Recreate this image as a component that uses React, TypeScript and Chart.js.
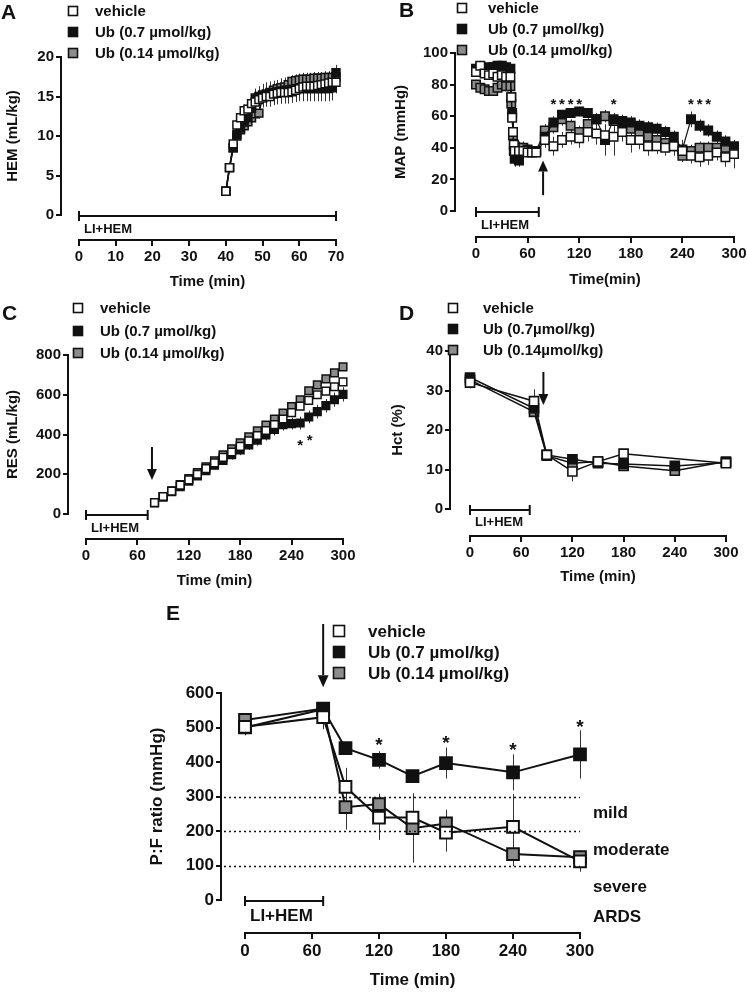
import { useEffect, useRef } from "react";
import { Chart, registerables } from "chart.js";
Chart.register(...registerables);

const FONT = "'Liberation Sans', Arial, Helvetica, sans-serif";
const INK = "#111111";
const WHITE = "#ffffff";
const BLACK = "#111111";
const GRAY = "#8c8c8c";
const FILLS = [WHITE, BLACK, GRAY];

const legendLabels = ["vehicle", "Ub (0.7 µmol/kg)", "Ub (0.14 µmol/kg)"];
const legendLabelsD = ["vehicle", "Ub (0.7µmol/kg)", "Ub (0.14µmol/kg)"];

// ---------- Panel A: HEM ----------
const aTime = [40, 41, 42, 43, 44, 45, 46, 47, 48, 49, 50, 51, 52, 53, 54, 55, 56, 57, 58, 59, 60, 61, 62, 63, 64, 65, 66, 67, 68, 69, 70];
const aVehicle = [3, 6, 9, 11.4, 12.3, 13.2, 13.4, 14.1, 14.3, 14.6, 14.8, 15, 15, 15.3, 15.4, 15.5, 15.5, 15.5, 15.6, 15.8, 16, 16.2, 16.3, 16.3, 16.3, 16.4, 16.5, 16.6, 16.7, 16.8, 16.8];
const aVehicleErr = [0.3, 0.4, 0.5, 0.6, 0.7, 0.8, 0.9, 1, 1.1, 1.2, 1.2, 1.3, 1.3, 1.4, 1.4, 1.4, 1.4, 1.4, 1.4, 1.4, 1.4, 1.4, 1.4, 1.4, 1.4, 1.4, 1.4, 1.4, 1.4, 1.4, 1.4];
const aUb07 = [3, 6, 8.5, 10.2, 11, 11.8, 12.5, 13.5, 14.8, 15, 15.2, 15.3, 15.4, 15.5, 15.6, 15.7, 15.8, 15.8, 15.9, 15.9, 16, 16, 16, 16, 16, 16, 16, 16, 16, 16.1, 18];
const aUb07Err = [0.3, 0.4, 0.5, 0.6, 0.7, 0.8, 0.9, 1, 1.2, 1.3, 1.4, 1.5, 1.5, 1.5, 1.5, 1.6, 1.6, 1.6, 1.6, 1.6, 1.6, 1.6, 1.6, 1.6, 1.6, 1.6, 1.6, 1.6, 1.6, 1.6, 1];
const aUb014 = [3, 6, 8.5, 10, 10.8, 11.3, 11.8, 12.3, 12.8, 12.9, 14.9, 15.3, 15.5, 15.8, 16, 16.1, 16.2, 16.5, 16.9, 17, 17.1, 17.2, 17.2, 17.2, 17.3, 17.3, 17.3, 17.4, 17.4, 17.4, 17.5];
const aUb014Err = [0.3, 0.3, 0.4, 0.4, 0.5, 0.5, 0.6, 0.6, 0.6, 0.7, 0.7, 0.7, 0.7, 0.7, 0.8, 0.8, 0.8, 0.8, 0.8, 0.8, 0.8, 0.8, 0.8, 0.8, 0.8, 0.8, 0.8, 0.8, 0.8, 0.8, 0.8];
const aXTicks = [0, 10, 20, 30, 40, 50, 60, 70];
const aYTicks = [0, 5, 10, 15, 20];

// ---------- Panel B: MAP ----------
const bTime = [0, 5, 10, 15, 20, 25, 30, 35, 40, 41, 42, 43, 44, 45, 50, 55, 60, 65, 70, 80, 90, 100, 110, 120, 130, 140, 150, 160, 170, 180, 190, 200, 210, 220, 230, 240, 250, 260, 270, 280, 290, 300];
const bVehicle = [88, 92, 87, 86, 87, 85, 86, 85, 85, 72, 59, 50, 42, 38, 38, 38, 37, 37, 37, 45, 41, 45, 47, 46, 50, 49, 48, 47, 50, 45, 45, 41, 41, 40, 41, 38, 35, 34, 35, 37, 34, 36];
const bVehicleErr = [3, 3, 3, 3, 3, 3, 3, 3, 4, 5, 6, 6, 5, 5, 4, 4, 3, 3, 3, 5, 6, 5, 5, 6, 6, 7, 6, 12, 6, 8, 6, 6, 5, 5, 6, 7, 5, 6, 6, 5, 6, 9];
const bUb07 = [90, 91, 90, 91, 91, 92, 92, 91, 90, 72, 62, 50, 38, 33, 32, 38, 38, 38, 38, 47, 56, 61, 62, 63, 62, 58, 45, 58, 57, 56, 54, 53, 52, 50, 47, 39, 58, 54, 51, 47, 44, 41];
const bUb07Err = [3, 3, 3, 3, 3, 3, 3, 3, 4, 5, 6, 6, 7, 5, 4, 3, 3, 3, 3, 5, 4, 3, 3, 3, 3, 4, 10, 4, 4, 4, 4, 4, 4, 4, 4, 6, 5, 4, 4, 4, 4, 4];
const bUb014 = [80, 78, 77, 76, 76, 78, 80, 79, 79, 68, 60, 48, 42, 38, 40, 40, 39, 38, 38, 51, 53, 58, 54, 50, 55, 58, 60, 57, 56, 52, 50, 47, 45, 43, 41, 35, 38, 40, 40, 40, 40, 40];
const bUb014Err = [3, 3, 3, 3, 3, 3, 3, 3, 4, 5, 5, 5, 5, 4, 4, 4, 3, 3, 3, 4, 4, 4, 4, 4, 4, 4, 4, 4, 4, 4, 4, 4, 4, 4, 4, 4, 4, 4, 4, 4, 4, 4];
const bXTicks = [0, 60, 120, 180, 240, 300];
const bYTicks = [0, 20, 40, 60, 80, 100];
const bStarTimes = [90, 100, 110, 120, 160, 250, 260, 270];
const bStarLevel = 70;

// ---------- Panel C: RES ----------
const cTime = [80, 90, 100, 110, 120, 130, 140, 150, 160, 170, 180, 190, 200, 210, 220, 230, 240, 250, 260, 270, 280, 290, 300];
const cVehicle = [57, 88, 115, 145, 172, 200, 228, 257, 285, 312, 340, 368, 395, 420, 450, 478, 510, 543, 572, 600, 618, 640, 665];
const cVehicleErr = [6, 8, 8, 10, 10, 10, 10, 12, 12, 12, 12, 14, 14, 14, 15, 15, 15, 16, 16, 18, 18, 20, 20];
const cUb07 = [57, 85, 112, 138, 165, 192, 218, 245, 270, 298, 322, 348, 372, 398, 425, 450, 455, 458, 488, 515, 545, 575, 602];
const cUb07Err = [6, 10, 12, 14, 16, 18, 20, 22, 24, 24, 26, 26, 28, 28, 30, 30, 30, 32, 32, 34, 34, 36, 36];
const cUb014 = [57, 88, 117, 148, 178, 208, 238, 268, 298, 328, 358, 388, 418, 448, 478, 508, 540, 575, 620, 650, 680, 710, 740];
const cUb014Err = [5, 6, 6, 7, 7, 8, 8, 8, 9, 9, 10, 10, 10, 11, 11, 12, 12, 12, 13, 13, 14, 14, 15];
const cXTicks = [0, 60, 120, 180, 240, 300];
const cYTicks = [0, 200, 400, 600, 800];
const cStarTimes = [250, 261];
const cStarValues = [363, 388];

// ---------- Panel D: Hct ----------
const dTime = [0, 75, 90, 120, 150, 180, 240, 300];
const dVehicle = [32, 27.3, 13.7, 9.5, 12, 14, null, 11.6];
const dVehicleErr = [1.5, 3, 1, 2.5, 1, 1, 0, 1];
const dUb07 = [33.3, 25.5, 13.7, 12.6, 11.6, 11.4, 10.9, 11.8];
const dUb07Err = [0.8, 1, 1, 1, 0.8, 0.8, 0.8, 0.8];
const dUb014 = [32.7, 24.6, 13.5, 11.6, 12, 10.9, 9.7, 12];
const dUb014Err = [0.8, 1, 0.8, 1, 0.8, 0.8, 0.8, 0.8];
const dXTicks = [0, 60, 120, 180, 240, 300];
const dYTicks = [0, 10, 20, 30, 40];

// ---------- Panel E: P:F ratio ----------
const eTime = [0, 70, 90, 120, 150, 180, 240, 300];
const eVehicle = [502, 530, 328, 239, 239, 195, 212, 112];
const eVehicleErr = [25, 35, 55, 65, 70, 55, 95, 30];
const eUb07 = [500, 553, 440, 406, 359, 397, 370, 422];
const eUb07Err = [20, 15, 15, 25, 15, 45, 52, 70];
const eUb014 = [522, 555, 269, 278, 208, 222, 133, 124];
const eUb014Err = [20, 10, 65, 30, 100, 40, 35, 20];
const eXTicks = [0, 60, 120, 180, 240, 300];
const eYTicks = [0, 100, 200, 300, 400, 500, 600];
const eStarTimes = [120, 180, 240, 300];
const eStarValues = [462, 470, 450, 515];
const eThresholds = [100, 200, 300];
const eZoneLabels = ["mild", "moderate", "severe", "ARDS"];
const eZoneValues = [250, 145, 38, -50];

type Panel = {
  area: { l: number; r: number; t: number; b: number };
  yAxisX: number; yTitleX: number; xAxisY: number; xTitleY: number;
  xMin: number; xMax: number; yMin: number; yMax: number;
  xTicks: number[]; yTicks: number[];
  xTitle: string; yTitle: string;
  tick: number; titleSize: number;
  series: { label: string; x: number[]; y: (number | null)[]; err: number[]; fill: string }[];
  radius: number; lineWidth: number; pointBorder: number;
  decor: (chart: any, ctx: CanvasRenderingContext2D) => void;
};

function bold(size: number) {
  return `bold ${size}px ${FONT}`;
}

function drawLegend(ctx: CanvasRenderingContext2D, mx: number, tx: number, rows: number[], box: number, size: number, labels: string[]) {
  ctx.save();
  ctx.font = bold(size);
  ctx.textBaseline = "middle";
  ctx.textAlign = "left";
  rows.forEach((y, i) => {
    ctx.fillStyle = FILLS[i];
    ctx.fillRect(mx - box / 2, y - box / 2, box, box);
    ctx.lineWidth = 1.6;
    ctx.strokeStyle = INK;
    ctx.strokeRect(mx - box / 2, y - box / 2, box, box);
    ctx.fillStyle = INK;
    ctx.fillText(labels[i], tx, y + 1);
  });
  ctx.restore();
}

function drawLetter(ctx: CanvasRenderingContext2D, s: string, x: number, y: number, size: number) {
  ctx.save();
  ctx.font = bold(size);
  ctx.fillStyle = INK;
  ctx.textBaseline = "middle";
  ctx.textAlign = "left";
  ctx.fillText(s, x, y);
  ctx.restore();
}

function drawPeriod(chart: any, ctx: CanvasRenderingContext2D, t0: number, t1: number, labelDy: number, size: number) {
  const xs = chart.scales.x, ys = chart.scales.y;
  const x0 = xs.getPixelForValue(t0), x1 = xs.getPixelForValue(t1);
  const y = ys.getPixelForValue(0) + 1;
  ctx.save();
  ctx.strokeStyle = INK;
  ctx.lineWidth = 2;
  ctx.beginPath();
  ctx.moveTo(x0, y); ctx.lineTo(x1, y);
  ctx.moveTo(x0, y - 5); ctx.lineTo(x0, y + 5);
  ctx.moveTo(x1, y - 5); ctx.lineTo(x1, y + 5);
  ctx.stroke();
  ctx.font = bold(size);
  ctx.fillStyle = INK;
  ctx.textBaseline = "middle";
  ctx.textAlign = "left";
  ctx.fillText("LI+HEM", x0 + 5, y + labelDy);
  ctx.restore();
}

function drawArrow(chart: any, ctx: CanvasRenderingContext2D, t: number, vFrom: number, vTip: number, head: number) {
  const xs = chart.scales.x, ys = chart.scales.y;
  const x = xs.getPixelForValue(t);
  const y1 = ys.getPixelForValue(vFrom), y2 = ys.getPixelForValue(vTip);
  const dir = y2 > y1 ? 1 : -1;
  ctx.save();
  ctx.strokeStyle = INK;
  ctx.fillStyle = INK;
  ctx.lineWidth = 2;
  ctx.beginPath();
  ctx.moveTo(x, y1);
  ctx.lineTo(x, y2 - dir * head);
  ctx.stroke();
  ctx.beginPath();
  ctx.moveTo(x, y2);
  ctx.lineTo(x - head * 0.45, y2 - dir * head);
  ctx.lineTo(x + head * 0.45, y2 - dir * head);
  ctx.closePath();
  ctx.fill();
  ctx.restore();
}

function drawStars(chart: any, ctx: CanvasRenderingContext2D, times: number[], values: number[], size: number) {
  const xs = chart.scales.x, ys = chart.scales.y;
  ctx.save();
  ctx.font = bold(size);
  ctx.fillStyle = INK;
  ctx.textAlign = "center";
  ctx.textBaseline = "alphabetic";
  times.forEach((t, i) => {
    ctx.fillText("*", xs.getPixelForValue(t), ys.getPixelForValue(values[i]) + size * 0.57);
  });
  ctx.restore();
}

function makeChart(canvas: HTMLCanvasElement, P: Panel) {
  const datasets = P.series.map((s) => ({
    label: s.label,
    data: s.x.map((t, i) => ({ x: t, y: s.y[i] })),
    err: s.err,
    borderColor: INK,
    borderWidth: P.lineWidth,
    pointStyle: "rect",
    pointRadius: P.radius,
    pointBackgroundColor: s.fill,
    pointBorderColor: INK,
    pointBorderWidth: P.pointBorder,
    showLine: true,
    spanGaps: true,
    clip: false,
    tension: 0,
    fill: false,
  }));
  const tickFont = { family: FONT, size: P.tick, weight: "bold" as const };
  const titleFont = { family: FONT, size: P.titleSize, weight: "bold" as const };
  const lh = P.titleSize * 1.2;
  const shift = {
    id: "shiftAxes",
    afterLayout(chart: any) {
      const ys = chart.scales.y, xs = chart.scales.x;
      ys.left = P.yTitleX - lh / 2;
      ys.right = P.yAxisX;
      ys.width = ys.right - ys.left;
      xs.top = P.xAxisY;
      xs.bottom = P.xTitleY + lh / 2;
      xs.height = xs.bottom - xs.top;
    },
  };
  const errorBars = {
    id: "errorBars",
    beforeDatasetsDraw(chart: any) {
      const { ctx } = chart;
      const xs = chart.scales.x, ys = chart.scales.y;
      ctx.save();
      ctx.strokeStyle = "#333";
      ctx.lineWidth = 1;
      chart.data.datasets.forEach((ds: any) => {
        ds.data.forEach((p: any, i: number) => {
          const e = ds.err ? ds.err[i] : 0;
          if (p.y == null || !e) return;
          const x = Math.round(xs.getPixelForValue(p.x)) + 0.5;
          ctx.beginPath();
          ctx.moveTo(x, ys.getPixelForValue(p.y + e));
          ctx.lineTo(x, ys.getPixelForValue(p.y - e));
          ctx.stroke();
        });
      });
      ctx.restore();
    },
  };
  const decor = {
    id: "decor",
    afterDraw(chart: any) {
      P.decor(chart, chart.ctx);
    },
  };
  return new Chart(canvas, {
    type: "line",
    data: { datasets: datasets as any },
    options: {
      responsive: false,
      animation: false,
      devicePixelRatio: 1,
      events: [],
      layout: {
        padding: { left: P.area.l - 20, right: 747 - P.area.r, top: P.area.t, bottom: 996 - P.area.b - 20 },
      },
      plugins: { legend: { display: false }, tooltip: { enabled: false }, title: { display: false } },
      scales: {
        x: {
          type: "linear",
          min: P.xMin,
          max: P.xMax,
          afterBuildTicks: (s: any) => {
            s.ticks = P.xTicks.map((v) => ({ value: v }));
          },
          afterFit: (s: any) => {
            s.height = 20;
            s.paddingLeft = 0;
            s.paddingRight = 0;
          },
          grid: { drawOnChartArea: false, drawTicks: true, tickLength: 6, color: INK, lineWidth: 2 },
          border: { display: true, color: INK, width: 2 },
          ticks: { color: INK, font: tickFont, padding: 2, maxRotation: 0, autoSkip: false },
          title: { display: true, text: P.xTitle, color: INK, font: titleFont, padding: 0 },
        },
        y: {
          type: "linear",
          min: P.yMin,
          max: P.yMax,
          afterBuildTicks: (s: any) => {
            s.ticks = P.yTicks.map((v) => ({ value: v }));
          },
          afterFit: (s: any) => {
            s.width = 20;
            s.paddingTop = 0;
            s.paddingBottom = 0;
          },
          grid: { drawOnChartArea: false, drawTicks: true, tickLength: 5, color: INK, lineWidth: 2 },
          border: { display: true, color: INK, width: 2 },
          ticks: { color: INK, font: tickFont, padding: 2, autoSkip: false },
          title: { display: true, text: P.yTitle, color: INK, font: titleFont, padding: 0 },
        },
      },
    } as any,
    plugins: [shift, errorBars, decor],
  });
}

function series3(x: number[], v: (number | null)[], ve: number[], b: number[], be: number[], g: number[], ge: number[], labels: string[]) {
  return [
    { label: labels[0], x, y: v, err: ve, fill: WHITE },
    { label: labels[1], x, y: b, err: be, fill: BLACK },
    { label: labels[2], x, y: g, err: ge, fill: GRAY },
  ];
}

const panels: Panel[] = [
  {
    area: { l: 79, r: 336, t: 57, b: 215 },
    yAxisX: 61, yTitleX: 13, xAxisY: 240, xTitleY: 282,
    xMin: 0, xMax: 70, yMin: 0, yMax: 20, xTicks: aXTicks, yTicks: aYTicks,
    xTitle: "Time (min)", yTitle: "HEM (mL/kg)", tick: 15, titleSize: 15,
    series: series3(aTime, aVehicle, aVehicleErr, aUb07, aUb07Err, aUb014, aUb014Err, legendLabels),
    radius: 5.6, lineWidth: 1.5, pointBorder: 1.5,
    decor: (chart, ctx) => {
      drawLetter(ctx, "A", 1, 13, 21);
      drawLegend(ctx, 73, 95, [11, 32, 53], 9, 15, legendLabels);
      drawPeriod(chart, ctx, 0, 70, 13, 13);
    },
  },
  {
    area: { l: 476, r: 734, t: 53, b: 211 },
    yAxisX: 455, yTitleX: 401, xAxisY: 237, xTitleY: 280,
    xMin: 0, xMax: 300, yMin: 0, yMax: 100, xTicks: bXTicks, yTicks: bYTicks,
    xTitle: "Time(min)", yTitle: "MAP (mmHg)", tick: 15, titleSize: 15,
    series: series3(bTime, bVehicle, bVehicleErr, bUb07, bUb07Err, bUb014, bUb014Err, legendLabels),
    radius: 6, lineWidth: 1.2, pointBorder: 1.5,
    decor: (chart, ctx) => {
      drawLetter(ctx, "B", 399, 11, 21);
      drawLegend(ctx, 462, 488, [8, 29, 50], 9, 15, legendLabels);
      drawPeriod(chart, ctx, 0, 73, 13, 13);
      drawArrow(chart, ctx, 78, 10, 32, 11);
      drawStars(chart, ctx, bStarTimes, bStarTimes.map(() => bStarLevel), 15);
    },
  },
  {
    area: { l: 86, r: 343, t: 355, b: 514 },
    yAxisX: 68, yTitleX: 13, xAxisY: 539, xTitleY: 581,
    xMin: 0, xMax: 300, yMin: 0, yMax: 800, xTicks: cXTicks, yTicks: cYTicks,
    xTitle: "Time (min)", yTitle: "RES (mL/kg)", tick: 15, titleSize: 15,
    series: series3(cTime, cVehicle, cVehicleErr, cUb07, cUb07Err, cUb014, cUb014Err, legendLabels),
    radius: 5.4, lineWidth: 1, pointBorder: 1.5,
    decor: (chart, ctx) => {
      drawLetter(ctx, "C", 2, 314, 21);
      drawLegend(ctx, 78, 100, [308, 331, 353], 9, 15, legendLabels);
      drawPeriod(chart, ctx, 0, 72, 13, 13);
      drawArrow(chart, ctx, 77, 337, 171, 11);
      drawStars(chart, ctx, cStarTimes, cStarValues, 15);
    },
  },
  {
    area: { l: 470, r: 726, t: 351, b: 509 },
    yAxisX: 450, yTitleX: 398, xAxisY: 536, xTitleY: 577,
    xMin: 0, xMax: 300, yMin: 0, yMax: 40, xTicks: dXTicks, yTicks: dYTicks,
    xTitle: "Time (min)", yTitle: "Hct (%)", tick: 15, titleSize: 15,
    series: series3(dTime, dVehicle, dVehicleErr, dUb07, dUb07Err, dUb014, dUb014Err, legendLabelsD),
    radius: 6.4, lineWidth: 1.5, pointBorder: 1.6,
    decor: (chart, ctx) => {
      drawLetter(ctx, "D", 399, 314, 21);
      drawLegend(ctx, 453, 483, [308, 329, 350], 9, 15, legendLabelsD);
      drawPeriod(chart, ctx, 0, 70, 12, 13);
      drawArrow(chart, ctx, 86, 34.7, 26.3, 11);
    },
  },
  {
    area: { l: 245, r: 580, t: 693, b: 900 },
    yAxisX: 221, yTitleX: 157, xAxisY: 933, xTitleY: 980,
    xMin: 0, xMax: 300, yMin: 0, yMax: 600, xTicks: eXTicks, yTicks: eYTicks,
    xTitle: "Time (min)", yTitle: "P:F ratio (mmHg)", tick: 17, titleSize: 17,
    series: series3(eTime, eVehicle, eVehicleErr, eUb07, eUb07Err, eUb014, eUb014Err, legendLabels),
    radius: 8.3, lineWidth: 2, pointBorder: 2,
    decor: (chart, ctx) => {
      const xs = chart.scales.x, ys = chart.scales.y;
      drawLetter(ctx, "E", 166, 614, 21);
      drawLegend(ctx, 339, 368, [631, 652, 673], 11, 17, legendLabels);
      drawPeriod(chart, ctx, 0, 70, 15, 17);
      drawArrow(chart, ctx, 70, 800, 617, 12);
      drawStars(chart, ctx, eStarTimes, eStarValues, 19);
      ctx.save();
      ctx.strokeStyle = INK;
      ctx.lineWidth = 1.6;
      ctx.setLineDash([2, 3]);
      eThresholds.forEach((v) => {
        const y = Math.round(ys.getPixelForValue(v)) + 0.5;
        ctx.beginPath();
        ctx.moveTo(224, y);
        ctx.lineTo(xs.getPixelForValue(300), y);
        ctx.stroke();
      });
      ctx.setLineDash([]);
      ctx.font = bold(17);
      ctx.fillStyle = INK;
      ctx.textAlign = "left";
      ctx.textBaseline = "middle";
      eZoneLabels.forEach((s, i) => {
        ctx.fillText(s, xs.getPixelForValue(300) + 13, ys.getPixelForValue(eZoneValues[i]));
      });
      ctx.restore();
    },
  },
];

export default function App() {
  const refs = useRef<(HTMLCanvasElement | null)[]>([]);
  useEffect(() => {
    document.body.style.margin = "0";
    document.body.style.background = "#ffffff";
    const charts = panels.map((p, i) => makeChart(refs.current[i] as HTMLCanvasElement, p));
    return () => charts.forEach((c) => c.destroy());
  }, []);
  return (
    <div style={{ position: "relative", width: 747, height: 996, background: "#fff", overflow: "hidden" }}>
      {panels.map((_, i) => (
        <canvas
          key={i}
          ref={(el) => {
            refs.current[i] = el;
          }}
          width={747}
          height={996}
          style={{ position: "absolute", left: 0, top: 0, width: 747, height: 996 }}
        />
      ))}
    </div>
  );
}
